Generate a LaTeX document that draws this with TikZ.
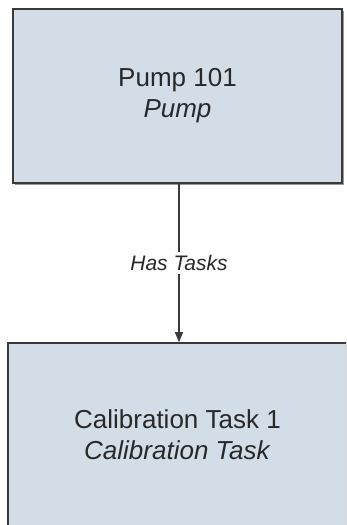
\documentclass[tikz,border=0pt]{standalone}
\usepackage{fontspec}
\setmainfont{Liberation Sans}
\usetikzlibrary{arrows.meta,shadows}
\definecolor{boxfill}{RGB}{211,221,232}
\definecolor{boxline}{RGB}{58,58,58}
\definecolor{txt}{RGB}{40,40,40}
\begin{document}
\begin{tikzpicture}[x=1pt,y=-1pt,
  entity/.style={draw=boxline, line width=1.6pt, fill=boxfill, inner sep=0pt, align=center,
    text=txt, font=\fontsize{26}{31}\selectfont,
    drop shadow={shadow xshift=2pt, shadow yshift=-2pt, fill=black!40, opacity=1}},
  rel/.style={draw=boxline, line width=1.3pt, -{Triangle[width=8pt,length=10pt]}},
  rellabel/.style={fill=white, inner sep=3pt, text=txt, font=\fontsize{21}{25}\selectfont\itshape}]
\useasboundingbox (0,0) rectangle (346,525);
\clip (0,0) rectangle (346,525);
\node[entity, minimum width=329pt, minimum height=174pt] (pump) at (177.5,96) {Pump 101\\\textit{Pump}};
\node[entity, minimum width=339pt, minimum height=184pt] (task) at (177.5,435) {Calibration Task 1\\\textit{Calibration Task}};
\draw[rel] ([xshift=1.5pt]pump.south) -- node[rellabel] (lbl) {Has Tasks} ([xshift=1.5pt]task.north);
\end{tikzpicture}
\end{document}
